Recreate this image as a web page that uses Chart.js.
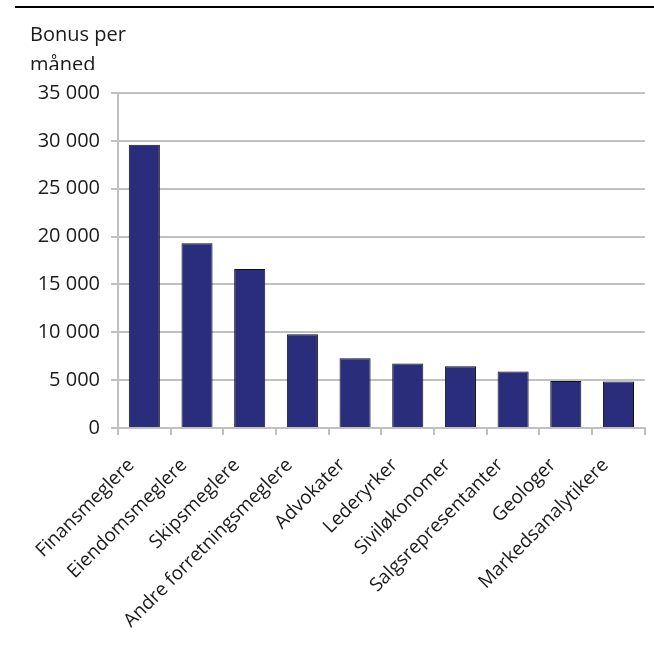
<!DOCTYPE html>
<html>
<head>
<meta charset="utf-8">
<script src="https://cdn.jsdelivr.net/npm/chart.js@4.4.1/dist/chart.umd.min.js"></script>
<style>
  html, body { margin: 0; padding: 0; background: #fff; }
  #wrap { position: relative; width: 654px; height: 646px; overflow: hidden; }
  #chart { position: absolute; left: 0; top: 0; }
  #topline { position: absolute; left: 15px; top: 6px; width: 639px; height: 2px; background: #000; }
  #title { position: absolute; left: 30px; top: 19px; height: 51px; overflow: hidden;
           font-family: "Open Sans", sans-serif; font-size: 20px; line-height: 30px; color: #1a1a1a; }
</style>
</head>
<body>
<div id="wrap">
  <canvas id="chart" width="654" height="646"></canvas>
  <div id="topline"></div>
  <div id="title">Bonus per<br>måned</div>
</div>
<script>
const categories = ["Finansmeglere", "Eiendomsmeglere", "Skipsmeglere", "Andre forretningsmeglere",
  "Advokater", "Lederyrker", "Siviløkonomer", "Salgsrepresentanter", "Geologer", "Markedsanalytikere"];
const bonusValues = [29600, 19300, 16600, 9800, 7300, 6750, 6450, 5900, 4900, 4850];
const yTicks = [0, 5000, 10000, 15000, 20000, 25000, 30000, 35000];

const fmt = v => String(v).replace(/\B(?=(\d{3})+(?!\d))/g, " ");

new Chart(document.getElementById("chart"), {
  type: "bar",
  data: {
    labels: categories,
    datasets: [{
      data: bonusValues,
      backgroundColor: "#2a2d7c",
      borderColor: "#111111",
      borderWidth: 1,
      barPercentage: 0.59,
      categoryPercentage: 1.0
    }]
  },
  options: {
    responsive: false,
    animation: false,
    layout: { padding: { left: 0, top: 93, right: 8, bottom: 0 } },
    plugins: { legend: { display: false }, tooltip: { enabled: false }, title: { display: false } },
    scales: {
      x: {
        offset: true,
        grid: { display: true, drawOnChartArea: false, drawTicks: true, tickLength: 7, color: "#c0c0c0", lineWidth: 2, offset: true },
        border: { display: true, color: "#c0c0c0", width: 2 },
        ticks: { autoSkip: false, minRotation: 45, maxRotation: 45, color: "#1a1a1a",
                 font: { family: "'Open Sans', sans-serif", size: 19 }, padding: 19, labelOffset: -13 },
        afterFit: s => { s.height = 218; }
      },
      y: {
        min: 0, max: 35000,
        afterBuildTicks: s => { s.ticks = yTicks.map(v => ({ value: v })); },
        grid: { color: "#c0c0c0", lineWidth: 2, tickLength: 7 },
        border: { display: true, color: "#c0c0c0", width: 2 },
        ticks: { color: "#1a1a1a", font: { family: "'Open Sans', sans-serif", size: 20 }, padding: 11, callback: v => fmt(v) },
        afterFit: s => { s.width = 118; }
      }
    }
  }
});
</script>
</body>
</html>
